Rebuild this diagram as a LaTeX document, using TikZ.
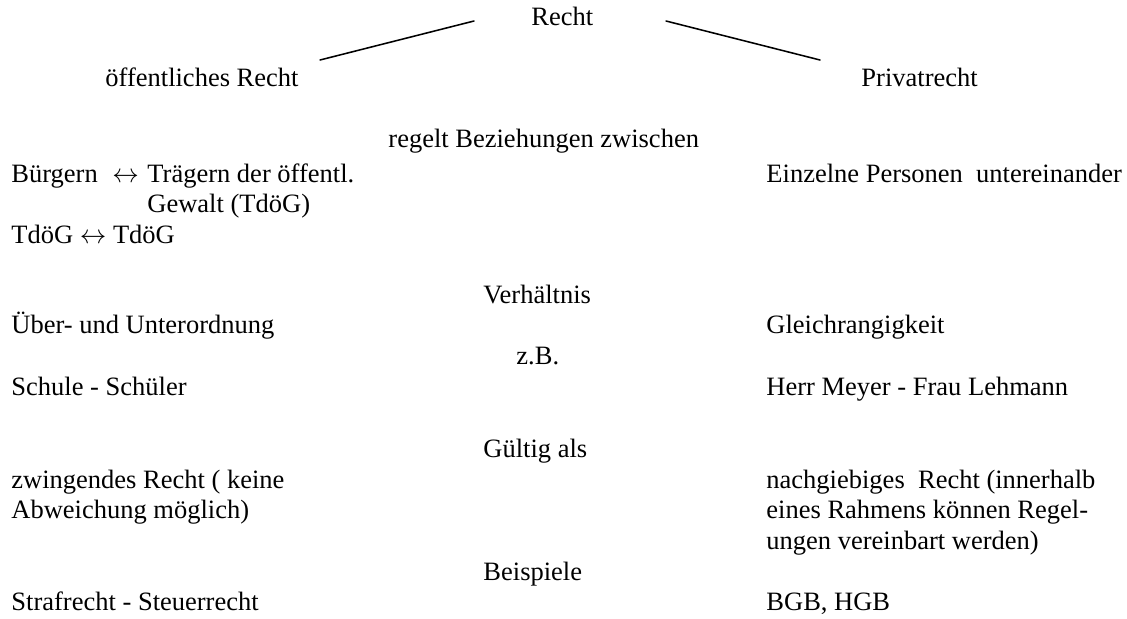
\documentclass[tikz,border=0pt]{standalone}
\usepackage{fontspec}
\setmainfont{Liberation Serif}
\usepackage{tikz}
\usetikzlibrary{positioning}
\usetikzlibrary{calc}

\begin{document}
\begin{tikzpicture}[x=0.4528pt,y=-0.4528pt,line cap=round,line join=round,
  font=\fontsize{12}{13.8}\selectfont,
  txt/.style={anchor=base west,inner sep=0pt},
  ast/.style={line width=0.7pt,color=black}]
\useasboundingbox (0,0) rectangle (1127,618);
\node[txt] (recht) at (531,25) {Recht};
\node[txt] (oeff) at (105,86) {öffentliches Recht};
\node[txt] (privat) at (861,86) {Privatrecht};
\coordinate (astlo) at (474,21);
\coordinate (astlu) at (320,60);
\coordinate (astro) at (666,21);
\coordinate (astru) at (820,60);
\draw [ast] (astlo) -- (astlu);
\draw [ast] (astro) -- (astru);
\node[txt] (regelt) at (388,147) {regelt Beziehungen zwischen};
\node[txt] (buerger) at (11,182) {Bürgern};
\node[txt] (pfeil) at (112,182) {$\leftrightarrow$};
\node[txt] (traeger) at (147,182) {Trägern der öffentl.};
\node[txt] (gewalt) at (147,212) {Gewalt (TdöG)};
\node[txt] (tdoeg) at (11,243) {TdöG $\leftrightarrow$ TdöG};
\node[txt] (einzeln) at (766,182) {Einzelne Personen\ \ untereinander};
\node[txt] (verh) at (483,303) {Verhältnis};
\node[txt] (ueber) at (11,333) {Über- und Unterordnung};
\node[txt] (gleich) at (766,333) {Gleichrangigkeit};
\node[txt] (zb) at (516,364) {z.B.};
\node[txt] (schule) at (11,395) {Schule - Schüler};
\node[txt] (meyer) at (766,395) {Herr Meyer - Frau Lehmann};
\node[txt] (gueltig) at (483,457) {Gültig als};
\node[txt] (zwing) at (11,488) {zwingendes Recht ( keine};
\node[txt] (abw) at (11,518) {Abweichung möglich)};
\node[txt] (nach) at (766,488) {nachgiebiges\ \ Recht (innerhalb};
\node[txt] (rahmen) at (766,518) {eines Rahmens können Regel-};
\node[txt] (ungen) at (766,549) {ungen vereinbart werden)};
\node[txt] (beisp) at (483,580) {Beispiele};
\node[txt] (straf) at (11,610) {Strafrecht - Steuerrecht};
\node[txt] (bgb) at (766,610) {BGB, HGB};
\end{tikzpicture}
\end{document}
